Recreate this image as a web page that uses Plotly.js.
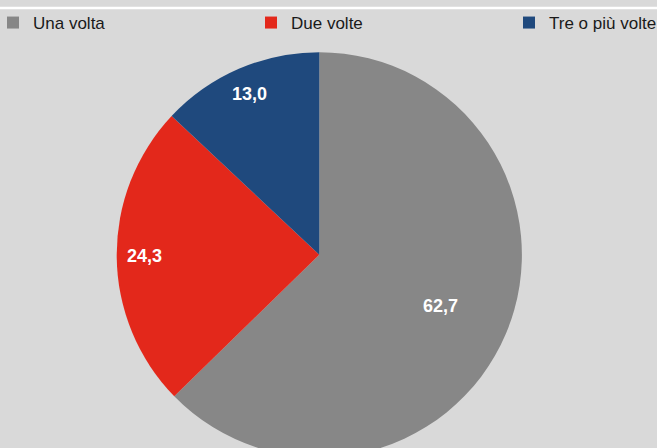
<!DOCTYPE html>
<html>
<head>
<meta charset="utf-8">
<script src="https://cdn.plot.ly/plotly-3.0.1.min.js"></script>
<style>
html,body{margin:0;padding:0;overflow:hidden;background:#d9d9d9;width:657px;height:448px;}
#chart{width:820px;height:470px;}
</style>
</head>
<body>
<div id="chart"></div>
<script>
// Data
const categories = ["Una volta", "Due volte", "Tre o più volte"];
const values = [62.7, 24.3, 13.0];
const sliceLabels = ["62,7", "24,3", "13,0"];

// Styles
const colors = ["#878787", "#e3281b", "#1f497d"];
const labelRadius = [0.65, 0.865, 0.865]; // fraction of pie radius for each value label

const W = 820, H = 470, T = 40;
const plotH = H - T;
// pie placement (pixels from top-left of figure)
const cx = 319.3, cy = 254.8, R = 202.6;

const trace = {
  type: "pie",
  labels: categories,
  values: values,
  textinfo: "none",
  sort: false,
  direction: "clockwise",
  rotation: 0,
  marker: {colors: colors, line: {width: 0}},
  domain: {x: [(cx - R) / W, (cx + R) / W], y: [(H - (cy + R)) / plotH, (H - (cy - R)) / plotH]},
  hoverinfo: "none"
};

// value labels placed at the middle angle of each slice (derived from the values)
const total = values.reduce((a, b) => a + b, 0);
let cum = 0;
const annotations = values.map((v, i) => {
  const mid = (cum + v / 2) / total * 2 * Math.PI;
  cum += v;
  const px = cx + labelRadius[i] * R * Math.sin(mid);
  const py = cy - labelRadius[i] * R * Math.cos(mid);
  return {
    xref: "paper", yref: "paper", x: px / W, y: (H - py) / plotH,
    xanchor: "center", yanchor: "middle", showarrow: false,
    text: "<b>" + sliceLabels[i] + "</b>",
    font: {family: "Liberation Sans, Arial, sans-serif", size: 18, color: "#ffffff"}
  };
});

const layout = {
  width: W, height: H,
  margin: {l: 0, r: 0, t: T, b: 0, autoexpand: false},
  paper_bgcolor: "#d9d9d9",
  plot_bgcolor: "#d9d9d9",
  showlegend: true,
  legend: {
    orientation: "h", x: -7 / W, xanchor: "left", y: 1 + (T - 5) / plotH, yanchor: "top",
    entrywidth: 213, entrywidthmode: "pixels",
    font: {family: "Liberation Sans, Arial, sans-serif", size: 17, color: "#1a1a1a"},
    bgcolor: "rgba(0,0,0,0)", traceorder: "normal"
  },
  annotations: annotations,
  shapes: [{type: "rect", xref: "paper", yref: "paper", x0: 0, x1: 1,
    y0: 1 + (T - 9.2) / plotH, y1: 1 + (T - 6.8) / plotH, fillcolor: "#ffffff", line: {width: 0}}]
};

Plotly.newPlot("chart", [trace], layout, {displayModeBar: false, staticPlot: true});
</script>
</body>
</html>
